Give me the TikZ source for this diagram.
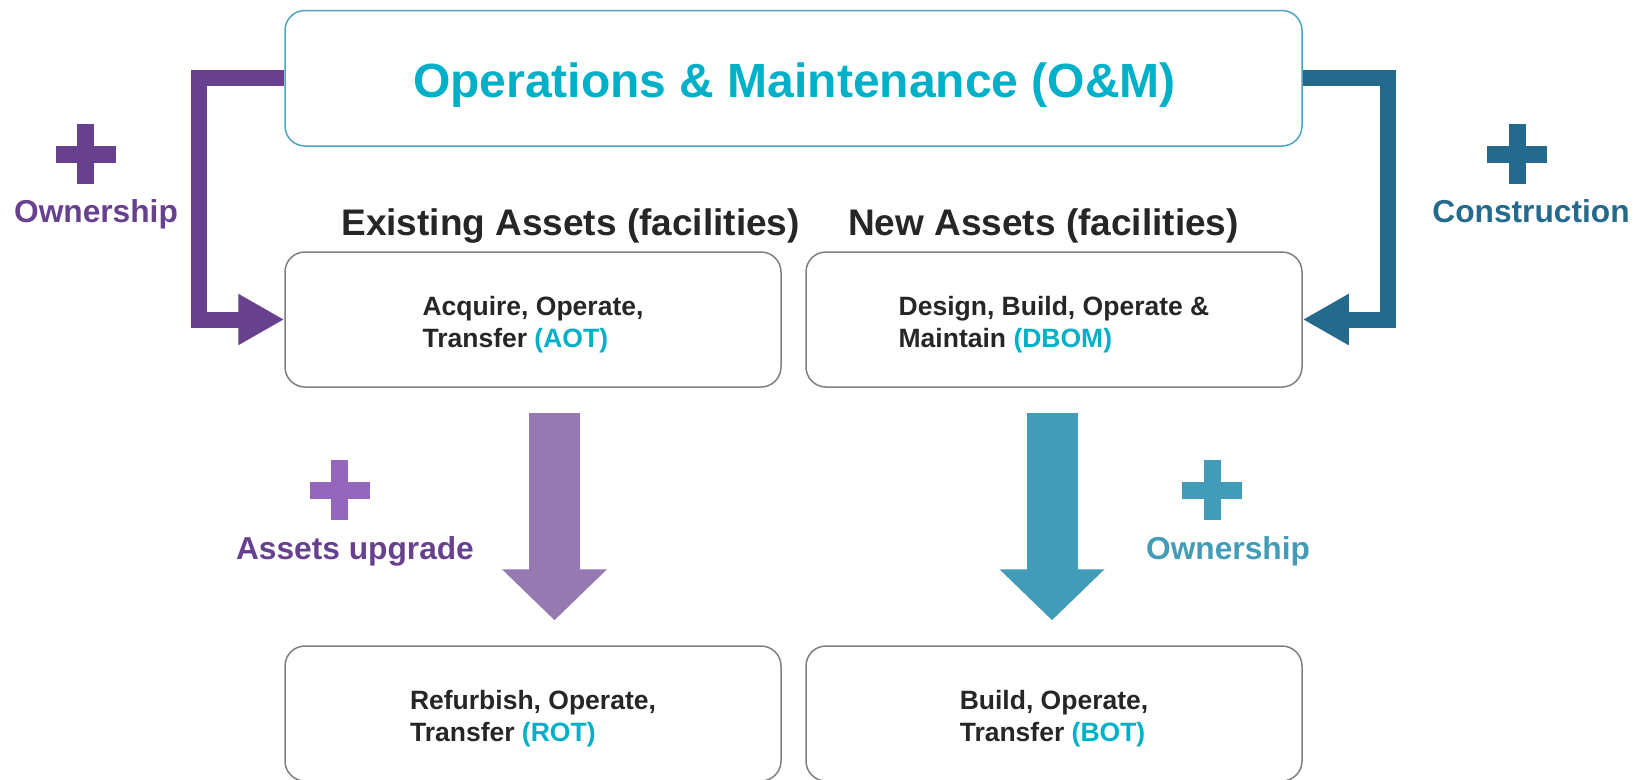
\documentclass[tikz,border=0pt]{standalone}
\usepackage{fontspec}
\setmainfont{Liberation Sans}
\usetikzlibrary{arrows.meta}
\definecolor{cyanT}{HTML}{00B0C8}
\definecolor{purpD}{HTML}{68418E}
\definecolor{purpL}{HTML}{9466BC}
\definecolor{lavA}{HTML}{9579B0}
\definecolor{tealD}{HTML}{246A8C}
\definecolor{tealM}{HTML}{439CB7}
\definecolor{boxB}{HTML}{4FA3BE}
\definecolor{grayB}{HTML}{7F7F7F}
\definecolor{txtD}{HTML}{262626}
\newcommand{\plussign}[3]{%
  \fill[#3] (#1-30,#2-8.5) rectangle (#1+30,#2+8.5);
  \fill[#3] (#1-8.5,#2-30) rectangle (#1+8.5,#2+30);}
\newcommand{\toplift}{\rule{0pt}{28.5pt}}
\tikzset{
  obox/.style={draw=boxB, line width=1.5pt, rounded corners=20pt, minimum width=1017pt, minimum height=135.5pt, inner sep=0pt},
  gbox/.style={draw=grayB, line width=1.5pt, rounded corners=20pt, minimum width=496pt, minimum height=135pt, inner sep=0pt, align=left, text=txtD, font=\bfseries\fontsize{26.5}{32}\selectfont},
  headtxt/.style={anchor=base, text=txtD, inner sep=0pt, font=\bfseries\fontsize{37}{44}\selectfont},
  sidetxt/.style={anchor=base, inner sep=0pt, font=\bfseries\fontsize{31.7}{38}\selectfont},
  bracketarrow/.style={line width=16pt, line join=miter, -{Triangle[length=46pt,width=48pt]}},
  downarrow/.style={line width=51pt, -{Triangle[length=51pt,width=102pt]}},
}
\begin{document}
\begin{tikzpicture}[x=1pt,y=-1pt]
\useasboundingbox (0,0) rectangle (1645,779);
% top box
\node[obox] (om) at (793.5,78.25) {};
\node[anchor=base, inner sep=0pt, text=cyanT, font=\bfseries\fontsize{48}{56}\selectfont] (omt) at (794.5,97.5) {Operations \& Maintenance (O\&M)};
% headings
\node[headtxt] (exh) at (570.6,235) {Existing Assets (facilities)};
\node[headtxt] (newh) at (1043.5,235) {New Assets (facilities)};
% middle boxes
\node[gbox] (aot) at (533,319.5) {\toplift Acquire, Operate,\\Transfer \textcolor{cyanT}{(AOT)}};
\node[gbox] (dbom) at (1054,319.5) {\toplift Design, Build, Operate \&\\Maintain \textcolor{cyanT}{(DBOM)}};
% bottom boxes
\node[gbox] (rot) at (533,713.5) {\toplift Refurbish, Operate,\\Transfer \textcolor{cyanT}{(ROT)}};
\node[gbox] (bot) at (1054,713.5) {\toplift Build, Operate,\\Transfer \textcolor{cyanT}{(BOT)}};
% bracket arrows
\draw[bracketarrow, purpD] (om.west) -- ++(-85,0) |- (aot.west);
\draw[bracketarrow, tealD] (om.east) -- ++(85,0) |- (dbom.east);
% down arrows
\draw[downarrow, lavA] ([xshift=21.5pt,yshift=-25pt]aot.south) -- ([xshift=21.5pt,yshift=25pt]rot.north);
\draw[downarrow, tealM] ([xshift=-2pt,yshift=-25pt]dbom.south) -- ([xshift=-2pt,yshift=25pt]bot.north);
% plus signs
\plussign{85.5}{154}{purpD}
\plussign{1517}{154}{tealD}
\plussign{339.5}{490}{purpL}
\plussign{1212}{490}{tealM}
% side labels
\node[sidetxt, text=purpD] (own1) at (96,222.5) {Ownership};
\node[sidetxt, text=tealD] (cons) at (1531,222.5) {Construction};
\node[sidetxt, text=purpD] (upg) at (355,559) {Assets upgrade};
\node[sidetxt, text=tealM] (own2) at (1228,559) {Ownership};
\end{tikzpicture}
\end{document}
